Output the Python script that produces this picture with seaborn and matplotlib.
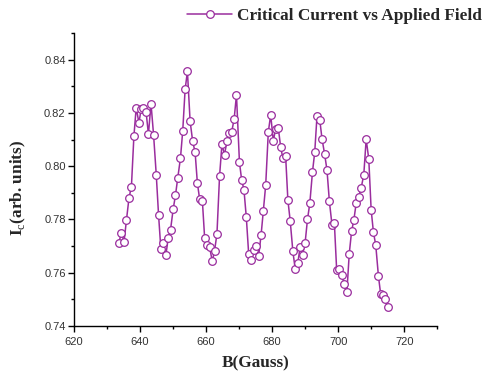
import matplotlib
matplotlib.use("Agg")
import matplotlib.pyplot as plt
import seaborn as sns
import pandas as pd
from matplotlib.ticker import MultipleLocator

B_gauss = [633.55, 634.37, 635.15, 635.87, 636.66, 637.38, 638.13, 638.83, 639.64, 640.33,
           641.02, 641.81, 642.53, 643.31, 644.10, 644.91, 645.60, 646.30, 647.02, 647.80,
           648.52, 649.22, 650.03, 650.72, 651.42, 652.23, 652.92, 653.64, 654.34, 655.15,
           655.93, 656.66, 657.35, 658.04, 658.86, 659.55, 660.27, 661.05, 661.87, 662.56,
           663.28, 664.07, 664.79, 665.57, 666.30, 666.99, 667.74, 668.49, 669.19, 670.09,
           670.75, 671.45, 672.17, 672.89, 673.70, 674.43, 675.15, 675.90, 676.63, 677.32,
           678.04, 678.83, 679.55, 680.33, 681.05, 681.84, 682.56, 683.25, 684.07, 684.76,
           685.45, 686.27, 686.96, 687.77, 688.46, 689.19, 689.97, 690.69, 691.39, 692.20,
           692.89, 693.58, 694.40, 695.09, 695.90, 696.60, 697.32, 698.10, 698.83, 699.52,
           700.33, 701.11, 701.84, 702.62, 703.34, 704.04, 704.73, 705.45, 706.14, 706.96,
           707.74, 708.46, 709.25, 709.97, 710.66, 711.36, 712.17, 712.86, 713.58, 714.28,
           715.03]

Ic = [0.7713, 0.7749, 0.7716, 0.7797, 0.7882, 0.7923, 0.8112, 0.8220, 0.8163, 0.8213,
      0.8219, 0.8205, 0.8120, 0.8235, 0.8116, 0.7966, 0.7817, 0.7688, 0.7712, 0.7665,
      0.7730, 0.7761, 0.7839, 0.7891, 0.7957, 0.8030, 0.8133, 0.8288, 0.8356, 0.8169,
      0.8093, 0.8053, 0.7937, 0.7876, 0.7871, 0.7731, 0.7706, 0.7696, 0.7643, 0.7683,
      0.7746, 0.7963, 0.8082, 0.8043, 0.8094, 0.8125, 0.8128, 0.8178, 0.8268, 0.8015,
      0.7949, 0.7912, 0.7808, 0.7670, 0.7647, 0.7687, 0.7702, 0.7663, 0.7740, 0.7832,
      0.7929, 0.8128, 0.8193, 0.8095, 0.8139, 0.8145, 0.8073, 0.8029, 0.8039, 0.7872,
      0.7796, 0.7680, 0.7615, 0.7637, 0.7697, 0.7667, 0.7712, 0.7800, 0.7860, 0.7978,
      0.8053, 0.8190, 0.8175, 0.8103, 0.8044, 0.7985, 0.7868, 0.7781, 0.7787, 0.7612,
      0.7613, 0.7591, 0.7556, 0.7527, 0.7672, 0.7755, 0.7798, 0.7862, 0.7883, 0.7919,
      0.7968, 0.8101, 0.8027, 0.7836, 0.7752, 0.7704, 0.7588, 0.7519, 0.7517, 0.7500,
      0.7470]

series_name = "Critical Current vs Applied Field"
x_label = "B(Gauss)"
y_label = r"$\mathbf{I}_{\mathrm{c}}$(arb. units)"

sns.set_style("white")
plt.rcParams["font.family"] = ["Liberation Sans", "DejaVu Sans"]
plt.rcParams["mathtext.fontset"] = "custom"
plt.rcParams["mathtext.rm"] = "Liberation Serif"
plt.rcParams["mathtext.bf"] = "Liberation Serif:bold"

df = pd.DataFrame({"B": B_gauss, "Ic": Ic, "series": series_name})

fig = plt.figure(figsize=(4.86, 3.74), dpi=100)
ax = fig.add_axes([0.1523, 0.1283, 0.7475, 0.7835])

color = "#9A2D9E"
sns.lineplot(data=df, x="B", y="Ic", hue="series", palette=[color], ax=ax,
             marker="o", markersize=5.5, markerfacecolor="white",
             markeredgecolor=color, markeredgewidth=0.9, linewidth=1.1,
             sort=False, estimator=None)

ax.set_xlim(620, 730)
ax.set_ylim(0.74, 0.85)
ax.xaxis.set_major_locator(MultipleLocator(20))
ax.xaxis.set_minor_locator(MultipleLocator(10))
ax.yaxis.set_major_locator(MultipleLocator(0.02))
ax.yaxis.set_minor_locator(MultipleLocator(0.01))
ax.set_xticks([620, 640, 660, 680, 700, 720])
ax.set_xticklabels(["620", "640", "660", "680", "700", "720"])
ax.set_yticks([0.74, 0.76, 0.78, 0.80, 0.82, 0.84])
ax.set_yticklabels(["0.74", "0.76", "0.78", "0.80", "0.82", "0.84"])

for s in ["top", "right"]:
    ax.spines[s].set_visible(False)
for s in ["left", "bottom"]:
    ax.spines[s].set_color("black")
    ax.spines[s].set_linewidth(1.0)

ax.tick_params(which="major", direction="out", length=4, width=1, color="black",
               labelsize=8, labelcolor="#333333", left=True, bottom=True)
ax.tick_params(axis="x", which="major", pad=4)
ax.tick_params(axis="y", which="major", pad=2)
ax.tick_params(which="minor", direction="out", length=2.5, width=1, color="black",
               left=True, bottom=True)

ax.set_xlabel(x_label, family="Liberation Serif", fontweight="bold", fontsize=12.4,
              labelpad=6)
ax.set_ylabel(y_label, family="Liberation Serif", fontweight="bold", fontsize=12.4)
ax.yaxis.set_label_coords(-0.128, 0.47)

handles, labels = ax.get_legend_handles_labels()
ax.legend(handles, labels, loc="center right", bbox_to_anchor=(1.006, 0.957),
          bbox_transform=fig.transFigure, frameon=False, handlelength=2.6,
          handletextpad=0.3, borderaxespad=0.0,
          prop={"family": "Liberation Serif", "weight": "bold", "size": 12.4})

fig.savefig("out.png", dpi=100)
